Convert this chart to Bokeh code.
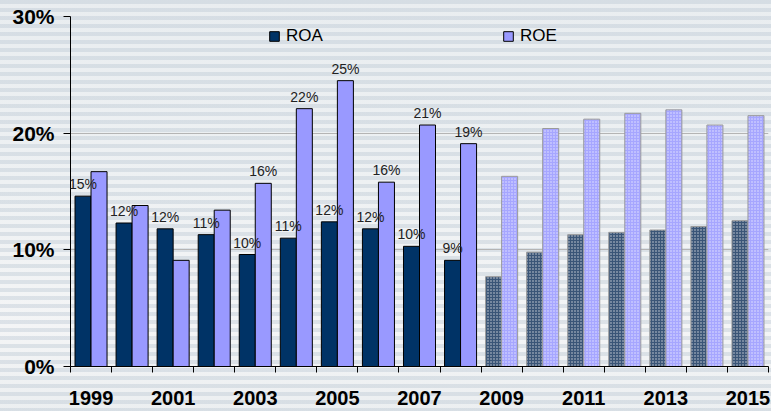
from bokeh.plotting import figure
from bokeh.models import (ColumnDataSource, Range1d, FixedTicker, PrintfTickFormatter,
                          LabelSet, Legend, LegendItem)
from bokeh.transform import dodge
from bokeh.core.properties import value
from bokeh.embed import file_html
from bokeh.resources import INLINE

# ---------------- data ----------------
years = [1999, 2000, 2001, 2002, 2003, 2004, 2005, 2006, 2007, 2008,
         2009, 2010, 2011, 2012, 2013, 2014, 2015]
roa = [14.6, 12.3, 11.8, 11.3, 9.6, 11.0, 12.4, 11.8, 10.3, 9.1,
       7.7, 9.8, 11.3, 11.5, 11.7, 12.0, 12.5]
roe = [16.7, 13.8, 9.1, 13.4, 15.7, 22.1, 24.5, 15.8, 20.7, 19.1,
       16.3, 20.4, 21.2, 21.7, 22.0, 20.7, 21.5]
roa_labels = ["15%", "12%", "12%", "11%", "10%", "11%", "12%", "12%", "10%", "9%",
              "", "", "", "", "", "", ""]
roe_labels = ["", "", "", "", "16%", "22%", "25%", "16%", "21%", "19%",
              "", "", "", "", "", "", ""]
forecast = [False] * 10 + [True] * 7
y_ticks = [0, 10, 20, 30]

FONT = "Liberation Sans"
ROA_COLOR = "#003366"
ROE_COLOR = "#9999ff"


def make_source(flag):
    idx = [i for i, f in enumerate(forecast) if f == flag]
    return ColumnDataSource(dict(
        x=idx,
        roa=[roa[i] for i in idx],
        roe=[roe[i] for i in idx],
        roa_lbl=[roa_labels[i] for i in idx],
        roe_lbl=[roe_labels[i] for i in idx],
    ))


src_hist = make_source(False)
src_fc = make_source(True)

p = figure(width=771, height=411, output_backend="svg", toolbar_location=None,
           x_range=Range1d(-0.5, len(years) - 0.5), y_range=Range1d(0, 30),
           min_border_left=70, min_border_right=3, min_border_top=16, min_border_bottom=45,
           background_fill_color=None, border_fill_color=None, outline_line_color=None)

p.styles = {
    "background": ("repeating-linear-gradient(180deg, rgba(185,198,210,0.40) 0px, "
                   "rgba(185,198,210,0.40) 4px, rgba(255,255,255,0) 4px, rgba(255,255,255,0) 8px), "
                   "linear-gradient(180deg, #e9edf0 0%, #eef1f3 45%, #f4f5f6 80%, #eceff1 100%)")
}

BW = 0.39
r_roa = p.vbar(x=dodge("x", -0.195), top="roa", width=BW, source=src_hist,
               fill_color=ROA_COLOR, line_color="black", line_width=1)
r_roe = p.vbar(x=dodge("x", 0.195), top="roe", width=BW, source=src_hist,
               fill_color=ROE_COLOR, line_color="black", line_width=1)

p.vbar(x=dodge("x", -0.195), top="roa", width=BW, source=src_fc,
       fill_color="#3a5577", hatch_pattern=".", hatch_color="#cfd4db",
       hatch_scale=3, hatch_weight=3, line_color="#9a9a9a", line_width=1)
p.vbar(x=dodge("x", 0.195), top="roe", width=BW, source=src_fc,
       fill_color="#a6a6ff", hatch_pattern=".", hatch_color="#ffffff",
       hatch_scale=3, hatch_weight=2, hatch_alpha=0.7, line_color="#9a9a9a", line_width=1)

lbl_kw = dict(text_align="center", text_baseline="alphabetic", y_offset=7,
              text_font=value(FONT), text_font_size=value("14px"), text_color="#222222")
p.add_layout(LabelSet(x=dodge("x", -0.195), y="roa", text="roa_lbl", source=src_hist, **lbl_kw))
p.add_layout(LabelSet(x=dodge("x", 0.195), y="roe", text="roe_lbl", source=src_hist, **lbl_kw))

# legends
leg_kw = dict(orientation="horizontal", glyph_width=12, glyph_height=12,
              label_height=12, label_standoff=6, padding=0, margin=0,
              border_line_color=None, background_fill_alpha=0,
              label_text_font=FONT, label_text_font_size="17px",
              label_text_color="black", label_text_baseline="middle")
leg1 = Legend(items=[LegendItem(label="ROA", renderers=[r_roa])], location=(198, 320), **leg_kw)
leg2 = Legend(items=[LegendItem(label="ROE", renderers=[r_roe])], location=(432, 320), **leg_kw)
p.add_layout(leg1)
p.add_layout(leg2)

# x axis
xt = FixedTicker(ticks=list(range(0, len(years), 2)),
                 minor_ticks=[i - 0.5 for i in range(len(years) + 1)])
p.xaxis.ticker = xt
p.xaxis.major_label_overrides = {i: str(years[i]) for i in range(0, len(years), 2)}
p.xaxis.major_tick_out = 0
p.xaxis.major_tick_in = 0
p.xaxis.minor_tick_out = 6
p.xaxis.minor_tick_in = 0
p.xaxis.minor_tick_line_color = "black"
p.xaxis.major_label_standoff = 18
p.xaxis.major_label_text_font = FONT
p.xaxis.major_label_text_font_size = "20px"
p.xaxis.major_label_text_font_style = "bold"
p.xaxis.major_label_text_color = "black"
p.xaxis.axis_line_color = "black"

# y axis
p.yaxis.ticker = FixedTicker(ticks=y_ticks)
p.yaxis.formatter = PrintfTickFormatter(format="%d%%")
p.yaxis.major_tick_out = 7
p.yaxis.major_tick_in = 0
p.yaxis.minor_tick_out = 0
p.yaxis.minor_tick_in = 0
p.yaxis.major_label_standoff = 9
p.yaxis.major_label_text_font = FONT
p.yaxis.major_label_text_font_size = "21px"
p.yaxis.major_label_text_font_style = "bold"
p.yaxis.major_label_text_color = "black"
p.yaxis.axis_line_color = "black"

p.xgrid.visible = False
p.ygrid.ticker = FixedTicker(ticks=y_ticks)
p.ygrid.grid_line_color = "#b4b4b4"

open("out.html", "w").write(file_html(p, INLINE))
